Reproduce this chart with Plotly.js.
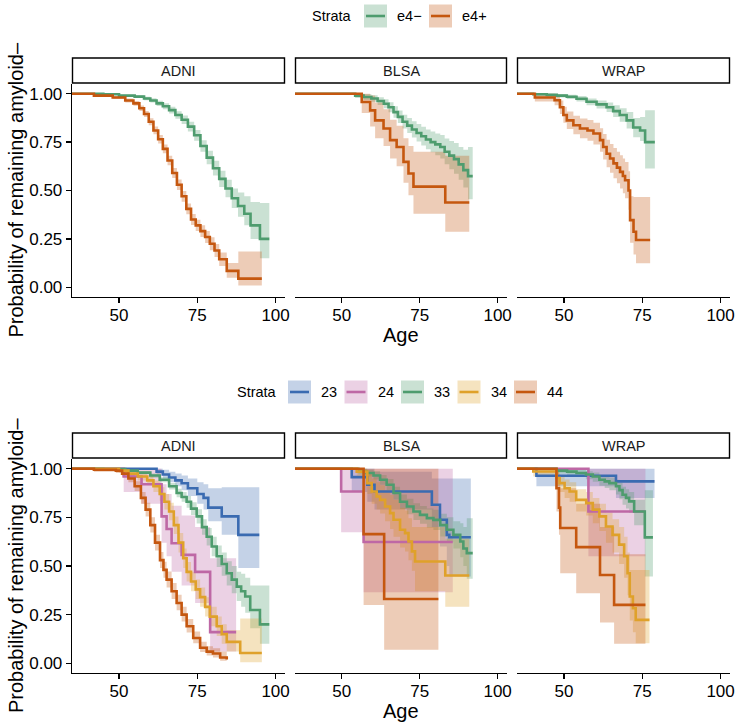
<!DOCTYPE html>
<html><head><meta charset="utf-8">
<script src="https://cdn.plot.ly/plotly-3.0.1.min.js"></script>
<style>html,body{margin:0;padding:0;background:#fff}#chart{width:740px;height:727px}</style>
</head><body><div id="chart"></div>
<script>
// ---------- facets, strata, labels ----------
const cohorts = ["ADNI", "BLSA", "WRAP"];
const strataTop = ["e4\u2212", "e4+"];
const strataBottom = ["23", "24", "33", "34", "44"];
const xTicks = [50, 75, 100];
const yTicks = [0, 0.25, 0.5, 0.75, 1];
const yTickText = ["0.00", "0.25", "0.50", "0.75", "1.00"];
const yTitle = "Probability of remaining amyloid\u2013";
const xTitle = "Age";
const legendTitle = "Strata";

// ---------- TOP ROW: APOE e4 carriers ----------
const adni_e4neg_t  = [35,45,50,55,58,60,62,64,66,68,70,72,74,76,78,80,82,84,86,88,90,92,95,98];
const adni_e4neg_s  = [1.00,0.997,0.99,0.985,0.975,0.965,0.95,0.935,0.915,0.89,0.865,0.83,0.785,0.73,0.67,0.615,0.56,0.51,0.46,0.42,0.38,0.32,0.25,0.25];
const adni_e4neg_lo = [1.00,0.994,0.985,0.978,0.966,0.954,0.937,0.92,0.898,0.871,0.843,0.805,0.757,0.70,0.635,0.577,0.518,0.465,0.41,0.365,0.32,0.25,0.15,0.15];
const adni_e4neg_hi = [1.00,1.00,0.995,0.992,0.984,0.976,0.963,0.95,0.932,0.909,0.887,0.855,0.813,0.76,0.705,0.653,0.602,0.555,0.51,0.49,0.47,0.44,0.435,0.435];

const adni_e4pos_t  = [35,42,48,52,54.6,56.5,58,59.5,61,62.5,64,65.5,67,68.5,70,71.5,73,74.5,76,77.5,79,80.5,82,84.4,88.1,95.6];
const adni_e4pos_s  = [1.00,0.99,0.98,0.965,0.95,0.925,0.895,0.855,0.81,0.765,0.715,0.655,0.59,0.53,0.47,0.405,0.35,0.32,0.29,0.26,0.225,0.19,0.145,0.085,0.045,0.045];
const adni_e4pos_lo = [1.00,0.985,0.972,0.955,0.938,0.911,0.879,0.837,0.79,0.743,0.692,0.63,0.564,0.503,0.442,0.377,0.322,0.291,0.26,0.229,0.192,0.156,0.11,0.05,0.01,0.01];
const adni_e4pos_hi = [1.00,0.995,0.988,0.975,0.962,0.939,0.911,0.873,0.83,0.787,0.738,0.68,0.616,0.557,0.498,0.433,0.378,0.349,0.32,0.291,0.258,0.224,0.18,0.125,0.185,0.185];

const blsa_e4neg_t  = [35,54.3,57,59.5,61.5,63.5,65,66.6,68,69.5,71,72.5,74,75.5,77,78.5,80,81.6,83,84.5,86,87.5,89,90.5,92];
const blsa_e4neg_s  = [1.00,0.99,0.983,0.975,0.962,0.948,0.93,0.905,0.88,0.855,0.835,0.815,0.797,0.78,0.763,0.75,0.738,0.725,0.70,0.68,0.662,0.635,0.605,0.574,0.574];
const blsa_e4neg_lo = [1.00,0.978,0.968,0.958,0.942,0.925,0.904,0.876,0.848,0.82,0.797,0.774,0.753,0.733,0.713,0.697,0.682,0.665,0.635,0.61,0.587,0.555,0.515,0.455,0.455];
const blsa_e4neg_hi = [1.00,1.00,0.998,0.992,0.982,0.971,0.956,0.935,0.913,0.891,0.874,0.857,0.843,0.829,0.815,0.805,0.795,0.787,0.768,0.755,0.745,0.725,0.71,0.725,0.725];

const blsa_e4pos_t  = [35,56.4,59.1,60.7,63.4,65.5,67.6,69.8,71.4,73,83.2,90.9];
const blsa_e4pos_s  = [1.00,0.957,0.914,0.862,0.82,0.76,0.725,0.648,0.588,0.52,0.438,0.438];
const blsa_e4pos_lo = [1.00,0.90,0.83,0.77,0.73,0.665,0.625,0.54,0.475,0.38,0.287,0.287];
const blsa_e4pos_hi = [1.00,1.00,0.99,0.955,0.92,0.865,0.835,0.77,0.73,0.70,0.68,0.68];

const wrap_e4neg_t  = [35,40.2,44.5,47.7,50.9,54,57.2,60.4,63.6,65.7,67.8,70,72.1,74.3,75.9,79];
const wrap_e4neg_s  = [1.00,0.997,0.994,0.99,0.984,0.974,0.958,0.945,0.93,0.91,0.89,0.862,0.825,0.81,0.75,0.75];
const wrap_e4neg_lo = [1.00,0.99,0.985,0.98,0.972,0.96,0.94,0.924,0.905,0.88,0.855,0.82,0.775,0.755,0.613,0.613];
const wrap_e4neg_hi = [1.00,1.00,1.00,0.998,0.995,0.988,0.975,0.965,0.955,0.94,0.925,0.905,0.875,0.88,0.914,0.914];

const wrap_e4pos_t  = [35,40.7,47,48.7,49.8,50.9,53,55.1,57.5,59.4,61.5,62.5,63.6,64.7,65.8,66.9,67.9,68.8,69.5,70.6,71.1,72.2,73,77.5];
const wrap_e4pos_s  = [1.00,0.98,0.966,0.93,0.89,0.862,0.837,0.82,0.81,0.794,0.76,0.725,0.69,0.665,0.64,0.618,0.596,0.575,0.553,0.50,0.347,0.287,0.244,0.244];
const wrap_e4pos_lo = [1.00,0.96,0.94,0.895,0.85,0.818,0.79,0.77,0.757,0.738,0.70,0.66,0.62,0.592,0.563,0.537,0.51,0.486,0.46,0.40,0.23,0.17,0.124,0.124];
const wrap_e4pos_hi = [1.00,1.00,0.99,0.965,0.932,0.908,0.886,0.872,0.864,0.85,0.822,0.792,0.762,0.74,0.719,0.70,0.682,0.665,0.647,0.60,0.47,0.467,0.467,0.467];

// ---------- BOTTOM ROW: APOE genotype ----------
const adni_23_t  = [35,62,64,66,68,70,72,75,77,78.5,82.8,88.1,94.8];
const adni_23_s  = [1.00,0.985,0.97,0.955,0.94,0.925,0.90,0.87,0.85,0.80,0.755,0.66,0.66];
const adni_23_lo = [1.00,0.97,0.95,0.93,0.91,0.89,0.86,0.82,0.79,0.73,0.66,0.49,0.49];
const adni_23_hi = [1.00,1.00,0.995,0.985,0.975,0.965,0.95,0.93,0.92,0.90,0.905,0.905,0.905];

const adni_24_t  = [35,51.5,57.2,63.6,65.2,66.8,70,74.3,79.1,87.4];
const adni_24_s  = [1.00,0.96,0.92,0.755,0.69,0.617,0.557,0.47,0.16,0.16];
const adni_24_lo = [1.00,0.88,0.82,0.62,0.55,0.47,0.40,0.31,0.06,0.06];
const adni_24_hi = [1.00,1.00,1.00,0.92,0.87,0.81,0.76,0.70,0.54,0.54];

const adni_33_t  = [35,45,52,56,60,63,66,68.4,70,71.6,73,74.8,76.5,78,79.6,81.2,82.8,84.4,86,87.6,89,90.3,91.9,95,98];
const adni_33_s  = [1.00,0.998,0.99,0.98,0.965,0.943,0.91,0.875,0.855,0.83,0.795,0.755,0.70,0.65,0.60,0.55,0.51,0.463,0.43,0.394,0.37,0.343,0.274,0.20,0.20];
const adni_33_lo = [1.00,0.995,0.985,0.972,0.954,0.93,0.893,0.853,0.83,0.80,0.762,0.718,0.66,0.605,0.55,0.495,0.45,0.40,0.36,0.32,0.29,0.26,0.18,0.10,0.10];
const adni_33_hi = [1.00,1.00,0.995,0.988,0.976,0.956,0.927,0.897,0.88,0.86,0.828,0.792,0.74,0.695,0.65,0.605,0.57,0.525,0.50,0.47,0.46,0.44,0.40,0.40,0.40];

const adni_34_t  = [35,50,53,56,59,61,63,64.5,66,67.5,69,70.5,71.6,73,74.5,75.9,77.5,79,81.2,82.8,84.4,88.7,95.6];
const adni_34_s  = [1.00,0.99,0.975,0.96,0.94,0.91,0.87,0.83,0.78,0.71,0.62,0.54,0.47,0.42,0.38,0.34,0.29,0.24,0.19,0.15,0.11,0.053,0.053];
const adni_34_lo = [1.00,0.98,0.96,0.94,0.915,0.88,0.835,0.79,0.735,0.665,0.57,0.49,0.42,0.37,0.33,0.29,0.24,0.19,0.14,0.10,0.06,0.005,0.005];
const adni_34_hi = [1.00,1.00,0.99,0.98,0.965,0.94,0.905,0.87,0.825,0.755,0.67,0.59,0.52,0.47,0.43,0.39,0.34,0.29,0.24,0.20,0.17,0.23,0.23];

const adni_44_t  = [35,42,49,51,53,55,57,58.5,60,61.5,63.1,64.2,65.2,66.8,68.4,70,71.6,73.7,75.9,78,80,82.3,84.4];
const adni_44_s  = [1.00,0.995,0.99,0.975,0.95,0.91,0.85,0.79,0.71,0.62,0.53,0.48,0.43,0.37,0.31,0.25,0.19,0.13,0.08,0.06,0.05,0.03,0.02];
const adni_44_lo = [1.00,0.985,0.978,0.96,0.93,0.885,0.82,0.755,0.672,0.58,0.49,0.44,0.39,0.33,0.272,0.215,0.158,0.103,0.058,0.04,0.03,0.013,0.006];
const adni_44_hi = [1.00,1.00,1.00,0.99,0.97,0.935,0.88,0.825,0.75,0.66,0.572,0.522,0.472,0.412,0.352,0.29,0.228,0.163,0.11,0.088,0.077,0.06,0.05];

const blsa_23_t  = [35,53.2,58.2,60.5,78.9,81.5,83.7,84.5,91.4];
const blsa_23_s  = [1.00,0.957,0.918,0.883,0.815,0.738,0.66,0.648,0.648];
const blsa_23_lo = [1.00,0.88,0.83,0.79,0.70,0.60,0.50,0.446,0.446];
const blsa_23_hi = [1.00,1.00,1.00,0.985,0.95,0.95,0.95,0.95,0.95];

const blsa_24_t  = [35,49.8,57,85.6];
const blsa_24_s  = [1.00,0.883,0.623,0.623];
const blsa_24_lo = [1.00,0.674,0.365,0.365];
const blsa_24_hi = [1.00,1.00,1.00,1.00];

const blsa_33_t  = [35,55.3,58,60.2,62.3,64.4,66.6,68.7,70.9,73,75.1,77.3,79.4,81.6,83.7,85.8,88,89,90.1,92];
const blsa_33_s  = [1.00,0.985,0.978,0.965,0.943,0.918,0.875,0.83,0.806,0.78,0.763,0.746,0.737,0.71,0.686,0.66,0.626,0.59,0.566,0.566];
const blsa_33_lo = [1.00,0.97,0.96,0.944,0.918,0.889,0.842,0.793,0.766,0.737,0.717,0.697,0.685,0.652,0.622,0.59,0.545,0.50,0.434,0.434];
const blsa_33_hi = [1.00,1.00,0.995,0.987,0.968,0.947,0.908,0.867,0.846,0.823,0.809,0.795,0.789,0.768,0.75,0.73,0.72,0.70,0.746,0.746];

const blsa_34_t  = [35,54.8,58.2,59.6,61.2,62.3,63.9,65.5,66.6,68.7,70.3,71.4,72.5,73.5,83.2,90.9];
const blsa_34_s  = [1.00,0.985,0.926,0.883,0.857,0.84,0.806,0.772,0.738,0.686,0.669,0.626,0.575,0.523,0.451,0.451];
const blsa_34_lo = [1.00,0.955,0.87,0.82,0.79,0.77,0.73,0.69,0.65,0.595,0.575,0.53,0.475,0.37,0.29,0.29];
const blsa_34_hi = [1.00,1.00,0.98,0.95,0.93,0.915,0.89,0.865,0.84,0.80,0.785,0.745,0.70,0.70,0.64,0.64];

const blsa_44_t  = [35,57,63.6,81];
const blsa_44_s  = [1.00,0.664,0.33,0.33];
const blsa_44_lo = [1.00,0.30,0.069,0.069];
const blsa_44_hi = [1.00,1.00,1.00,1.00];

const wrap_23_t  = [35,41.2,66.6,78.9];
const wrap_23_s  = [1.00,0.964,0.935,0.935];
const wrap_23_lo = [1.00,0.91,0.85,0.85];
const wrap_23_hi = [1.00,1.00,1.00,1.00];

const wrap_24_t  = [35,57.8,76];
const wrap_24_s  = [1.00,0.78,0.78];
const wrap_24_lo = [1.00,0.55,0.55];
const wrap_24_hi = [1.00,1.00,1.00];

const wrap_33_t  = [35,47.6,51,54,57,59.2,61.3,63,64.5,66.6,67.7,68.7,69.8,70.8,72.4,75.8,78.4];
const wrap_33_s  = [1.00,0.99,0.985,0.978,0.97,0.96,0.943,0.935,0.926,0.91,0.89,0.866,0.85,0.832,0.78,0.647,0.647];
const wrap_33_lo = [1.00,0.975,0.967,0.957,0.946,0.933,0.912,0.901,0.889,0.868,0.843,0.815,0.795,0.773,0.71,0.446,0.446];
const wrap_33_hi = [1.00,1.00,0.998,0.993,0.987,0.98,0.968,0.962,0.955,0.943,0.928,0.908,0.895,0.88,0.84,0.89,0.89];

const wrap_34_t  = [35,40.2,47.6,48.6,50.2,51.8,53.9,57.1,59.2,61.3,63.4,65.5,67.6,69.2,70.3,71,72,72.9,77.3];
const wrap_34_s  = [1.00,0.986,0.952,0.926,0.90,0.883,0.84,0.823,0.79,0.755,0.703,0.66,0.61,0.55,0.463,0.343,0.283,0.223,0.223];
const wrap_34_lo = [1.00,0.96,0.91,0.88,0.85,0.83,0.78,0.76,0.72,0.68,0.62,0.57,0.51,0.44,0.35,0.22,0.16,0.103,0.103];
const wrap_34_hi = [1.00,1.00,0.985,0.965,0.945,0.93,0.895,0.88,0.85,0.82,0.775,0.74,0.70,0.65,0.57,0.48,0.48,0.48,0.48];

const wrap_44_t  = [35,47.6,48.4,48.8,53.9,61.5,66,76];
const wrap_44_s  = [1.00,0.90,0.80,0.695,0.597,0.454,0.30,0.30];
const wrap_44_lo = [1.00,0.78,0.66,0.463,0.36,0.21,0.10,0.10];
const wrap_44_hi = [1.00,1.00,0.97,0.90,0.82,0.70,0.56,0.56];

// ---------- styling ----------
const colorsTop = ["#4E9C6E", "#C5570F"];
const colorsBottom = ["#3A6BB1", "#BE68A5", "#4E9C6E", "#DFA12A", "#C5570F"];
const FONT = "'Liberation Sans', Arial, Helvetica, sans-serif";
const W = 740, H = 727;
const colPx = [[72, 285], [295, 507], [517, 730]];
const rowPx = [[84, 297], [459, 673]];
const stripPx = [[58, 84], [433, 459]];
const legendY = [16, 392];

function rgba(hex, a) {
  const n = parseInt(hex.slice(1), 16);
  return "rgba(" + ((n >> 16) & 255) + "," + ((n >> 8) & 255) + "," + (n & 255) + "," + a + ")";
}
const px = p => p / W, py = p => 1 - p / H;

// table of curves built from the named arrays
const rows = [
  { strata: strataTop, colors: colorsTop, panels: [
    [[adni_e4neg_t, adni_e4neg_s, adni_e4neg_lo, adni_e4neg_hi], [adni_e4pos_t, adni_e4pos_s, adni_e4pos_lo, adni_e4pos_hi]],
    [[blsa_e4neg_t, blsa_e4neg_s, blsa_e4neg_lo, blsa_e4neg_hi], [blsa_e4pos_t, blsa_e4pos_s, blsa_e4pos_lo, blsa_e4pos_hi]],
    [[wrap_e4neg_t, wrap_e4neg_s, wrap_e4neg_lo, wrap_e4neg_hi], [wrap_e4pos_t, wrap_e4pos_s, wrap_e4pos_lo, wrap_e4pos_hi]]
  ]},
  { strata: strataBottom, colors: colorsBottom, panels: [
    [[adni_23_t, adni_23_s, adni_23_lo, adni_23_hi], [adni_24_t, adni_24_s, adni_24_lo, adni_24_hi], [adni_33_t, adni_33_s, adni_33_lo, adni_33_hi], [adni_34_t, adni_34_s, adni_34_lo, adni_34_hi], [adni_44_t, adni_44_s, adni_44_lo, adni_44_hi]],
    [[blsa_23_t, blsa_23_s, blsa_23_lo, blsa_23_hi], [blsa_24_t, blsa_24_s, blsa_24_lo, blsa_24_hi], [blsa_33_t, blsa_33_s, blsa_33_lo, blsa_33_hi], [blsa_34_t, blsa_34_s, blsa_34_lo, blsa_34_hi], [blsa_44_t, blsa_44_s, blsa_44_lo, blsa_44_hi]],
    [[wrap_23_t, wrap_23_s, wrap_23_lo, wrap_23_hi], [wrap_24_t, wrap_24_s, wrap_24_lo, wrap_24_hi], [wrap_33_t, wrap_33_s, wrap_33_lo, wrap_33_hi], [wrap_34_t, wrap_34_s, wrap_34_lo, wrap_34_hi], [wrap_44_t, wrap_44_s, wrap_44_lo, wrap_44_hi]]
  ]}
];

const traces = [];
const layout = {
  width: W, height: H, margin: { l: 0, r: 0, t: 0, b: 0 },
  paper_bgcolor: "#fff", plot_bgcolor: "rgba(0,0,0,0)",
  showlegend: false, font: { family: FONT, color: "#000" },
  shapes: [], annotations: []
};

rows.forEach((row, r) => {
  row.panels.forEach((panel, c) => {
    const idx = r * 3 + c + 1;
    const xa = "x" + (idx === 1 ? "" : idx), ya = "y" + (idx === 1 ? "" : idx);
    // ribbons
    panel.forEach((cv, k) => {
      traces.push({ type: "scatter", mode: "lines", x: cv[0], y: cv[2], xaxis: xa, yaxis: ya,
        line: { width: 0, shape: "hv" }, hoverinfo: "skip", showlegend: false });
      traces.push({ type: "scatter", mode: "lines", x: cv[0], y: cv[3], xaxis: xa, yaxis: ya,
        line: { width: 0, shape: "hv" }, fill: "tonexty", fillcolor: rgba(row.colors[k], 0.3),
        hoverinfo: "skip", showlegend: false });
    });
    // survival lines
    panel.forEach((cv, k) => {
      traces.push({ type: "scatter", mode: "lines", x: cv[0], y: cv[1], xaxis: xa, yaxis: ya,
        name: row.strata[k], line: { width: 2.6, shape: "hv", color: row.colors[k] }, showlegend: false });
    });
    layout["xaxis" + (idx === 1 ? "" : idx)] = {
      domain: [px(colPx[c][0]), px(colPx[c][1])], anchor: ya, range: [35, 103],
      tickvals: xTicks, ticks: "outside", ticklen: 5, tickwidth: 1.3, tickcolor: "#000",
      ticklabelstandoff: -3,
      showline: true, linewidth: 1.3, linecolor: "#000", showgrid: false, zeroline: false,
      tickfont: { size: 17, color: "#000", family: FONT }, fixedrange: true
    };
    layout["yaxis" + (idx === 1 ? "" : idx)] = {
      domain: [py(rowPx[r][1]), py(rowPx[r][0])], anchor: xa, range: [-0.05, 1.05],
      tickvals: yTicks, ticktext: yTickText, ticks: c === 0 ? "outside" : "", ticklen: 5, tickwidth: 1.3, tickcolor: "#000",
      showticklabels: c === 0, showline: c === 0, linewidth: 1.3, linecolor: "#000",
      showgrid: false, zeroline: false, tickfont: { size: 17, color: "#000", family: FONT }, fixedrange: true
    };
    // facet strip
    layout.shapes.push({ type: "rect", xref: "paper", yref: "paper",
      x0: px(colPx[c][0] + 0.5), x1: px(colPx[c][1] - 0.5), y0: py(stripPx[r][1] - 1), y1: py(stripPx[r][0]),
      line: { color: "#000", width: 1.4 }, fillcolor: "#fff" });
    layout.annotations.push({ xref: "paper", yref: "paper", x: px((colPx[c][0] + colPx[c][1]) / 2),
      y: py((stripPx[r][0] + stripPx[r][1]) / 2 - 0.5), text: cohorts[c], showarrow: false,
      xanchor: "center", yanchor: "middle", font: { size: 14.5, color: "#1a1a1a", family: FONT } });
  });
  // axis titles
  layout.annotations.push({ xref: "paper", yref: "paper", x: px(16), y: py((rowPx[r][0] + rowPx[r][1]) / 2),
    text: yTitle, textangle: -90, showarrow: false, xanchor: "center", yanchor: "middle",
    font: { size: 20, color: "#000", family: FONT } });
  layout.annotations.push({ xref: "paper", yref: "paper", x: px((colPx[1][0] + colPx[1][1]) / 2),
    y: py(rowPx[r][1] + 38), text: xTitle, showarrow: false, xanchor: "center", yanchor: "middle",
    font: { size: 20, color: "#000", family: FONT } });
});

// legends (drawn as keys + labels)
const legendLayouts = [
  { titleRight: 354, firstBox: 364, step: 65 },
  { titleRight: 279, firstBox: 288, step: 56.5 }
];
rows.forEach((row, r) => {
  const L = legendLayouts[r], cy = legendY[r];
  layout.annotations.push({ xref: "paper", yref: "paper", x: px(L.titleRight), y: py(cy), text: legendTitle,
    showarrow: false, xanchor: "right", yanchor: "middle", font: { size: 14.5, color: "#000", family: FONT } });
  row.strata.forEach((s, k) => {
    const bx = L.firstBox + k * L.step;
    layout.shapes.push({ type: "rect", xref: "paper", yref: "paper", x0: px(bx), x1: px(bx + 23),
      y0: py(cy + 11.5), y1: py(cy - 11.5), line: { width: 0 }, fillcolor: rgba(row.colors[k], 0.3) });
    layout.shapes.push({ type: "line", xref: "paper", yref: "paper", x0: px(bx + 2), x1: px(bx + 21),
      y0: py(cy), y1: py(cy), line: { width: 2.6, color: row.colors[k] } });
    layout.annotations.push({ xref: "paper", yref: "paper", x: px(bx + 31), y: py(cy), text: s,
      showarrow: false, xanchor: "left", yanchor: "middle", font: { size: 14.5, color: "#000", family: FONT } });
  });
});

Plotly.newPlot("chart", traces, layout, { staticPlot: true, displayModeBar: false });
</script>
</body></html>
